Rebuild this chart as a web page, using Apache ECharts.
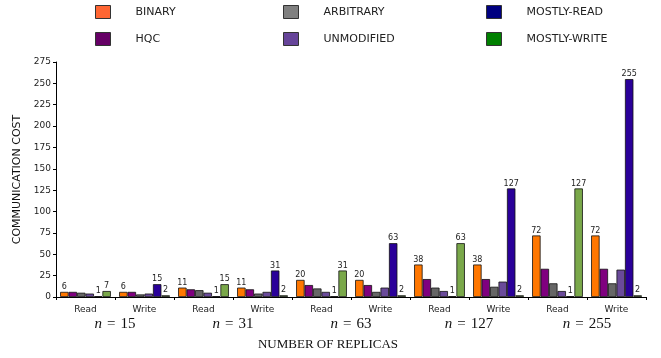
<!DOCTYPE html>
<html>
<head>
<meta charset="utf-8">
<script src="https://cdn.jsdelivr.net/npm/echarts@6/dist/echarts.min.js"></script>
<style>html,body{margin:0;padding:0;background:#fff}#c{width:661px;height:358px}</style>
</head>
<body>
<div id="c"></div>
<script>
const categories = ['Read','Write','Read','Write','Read','Write','Read','Write','Read','Write'];
const groupLabels = ['15','31','63','127','255'];
const yTicks = [0,25,50,75,100,125,150,175,200,225,250,275];
const binary      = [6,6,11,11,20,20,38,38,72,72];
const hqc         = [6,6,9,9,14,14,21,21,33,33];
const arbitrary   = [5,3,8,4,10,6,11,12,16,16];
const unmodified  = [4,4,5,6,6,11,7,18,7,32];
const mostlyRead  = [1,15,1,31,1,63,1,127,1,255];
const mostlyWrite = [7,2,15,2,31,2,63,2,127,2];

const names = ['BINARY','HQC','ARBITRARY','UNMODIFIED','MOSTLY-READ','MOSTLY-WRITE'];
const barColors = ['#ff7700','#7f007f','#666666','#6a4a9a','#2a0099','#7aa84a'];
const legendColors = ['#ff6633','#660066','#808080','#664499','#000080','#008000'];
const values = [binary,hqc,arbitrary,unmodified,mostlyRead,mostlyWrite];
const labelled = [true,false,false,false,true,true];

const chart = echarts.init(document.getElementById('c'));
const sans = 'DejaVu Sans';
function legendCol(idxs, left){
  return {
    orient:'vertical', left:left, top:0, itemGap:13, itemWidth:15, itemHeight:13,
    icon:'rect', selectedMode:false,
    itemStyle:{borderColor:'#333', borderWidth:1},
    textStyle:{fontFamily:sans, fontSize:11, color:'#222', padding:[0,0,0,20]},
    data: idxs.map(i=>({name:names[i], itemStyle:{color:legendColors[i], borderColor:'#333', borderWidth:1}}))
  };
}
const option = {
  animation:false,
  backgroundColor:'#fff',
  legend:[legendCol([0,1],90), legendCol([2,3],278), legendCol([4,5],481)],
  grid:{left:56, right:15, top:62, bottom:61},
  xAxis:[{
    type:'category', data:categories,
    axisLine:{lineStyle:{color:'#000', width:1}},
    axisTick:{show:true, length:3, lineStyle:{color:'#000'}},
    axisLabel:{fontFamily:sans, fontSize:9, color:'#222', margin:8}
  },{
    type:'category', data:groupLabels, position:'bottom',
    axisLine:{show:false}, axisTick:{show:false},
    axisLabel:{
      margin:20,
      formatter: v => '{i|n}{e|=}' + v,
      fontFamily:'Liberation Serif', fontSize:15, color:'#111',
      rich:{
        i:{fontFamily:'Liberation Serif', fontStyle:'italic', fontSize:15, color:'#111'},
        e:{fontFamily:'Liberation Serif', fontSize:15, color:'#111', padding:[0,5,0,5]}
      }
    }
  }],
  yAxis:{
    type:'value', min:yTicks[0], max:yTicks[yTicks.length-1], interval:25,
    name:'COMMUNICATION COST', nameLocation:'middle', nameGap:32,
    nameTextStyle:{fontFamily:sans, fontSize:11, color:'#111'},
    axisLine:{show:true, lineStyle:{color:'#000', width:1}},
    axisTick:{show:true, length:3, lineStyle:{color:'#000'}},
    axisLabel:{fontFamily:sans, fontSize:9, color:'#222', margin:5},
    splitLine:{show:false}
  },
  graphic:[{
    type:'text', x:328, y:345,
    style:{text:'NUMBER OF REPLICAS', textAlign:'center', textVerticalAlign:'middle',
      font:'13px "Liberation Serif"', fill:'#111'}
  }],
  series: names.map((n,i)=>({
    name:n, type:'bar', data:values[i], xAxisIndex:0,
    barGap:'0%', barCategoryGap:'14%',
    itemStyle:{color:barColors[i], borderColor:'#111', borderWidth:0.8},
    label:{show:labelled[i], position:'top', distance:1, fontFamily:sans, fontSize:8, color:'#222'}
  }))
};
chart.setOption(option);
</script>
</body>
</html>
